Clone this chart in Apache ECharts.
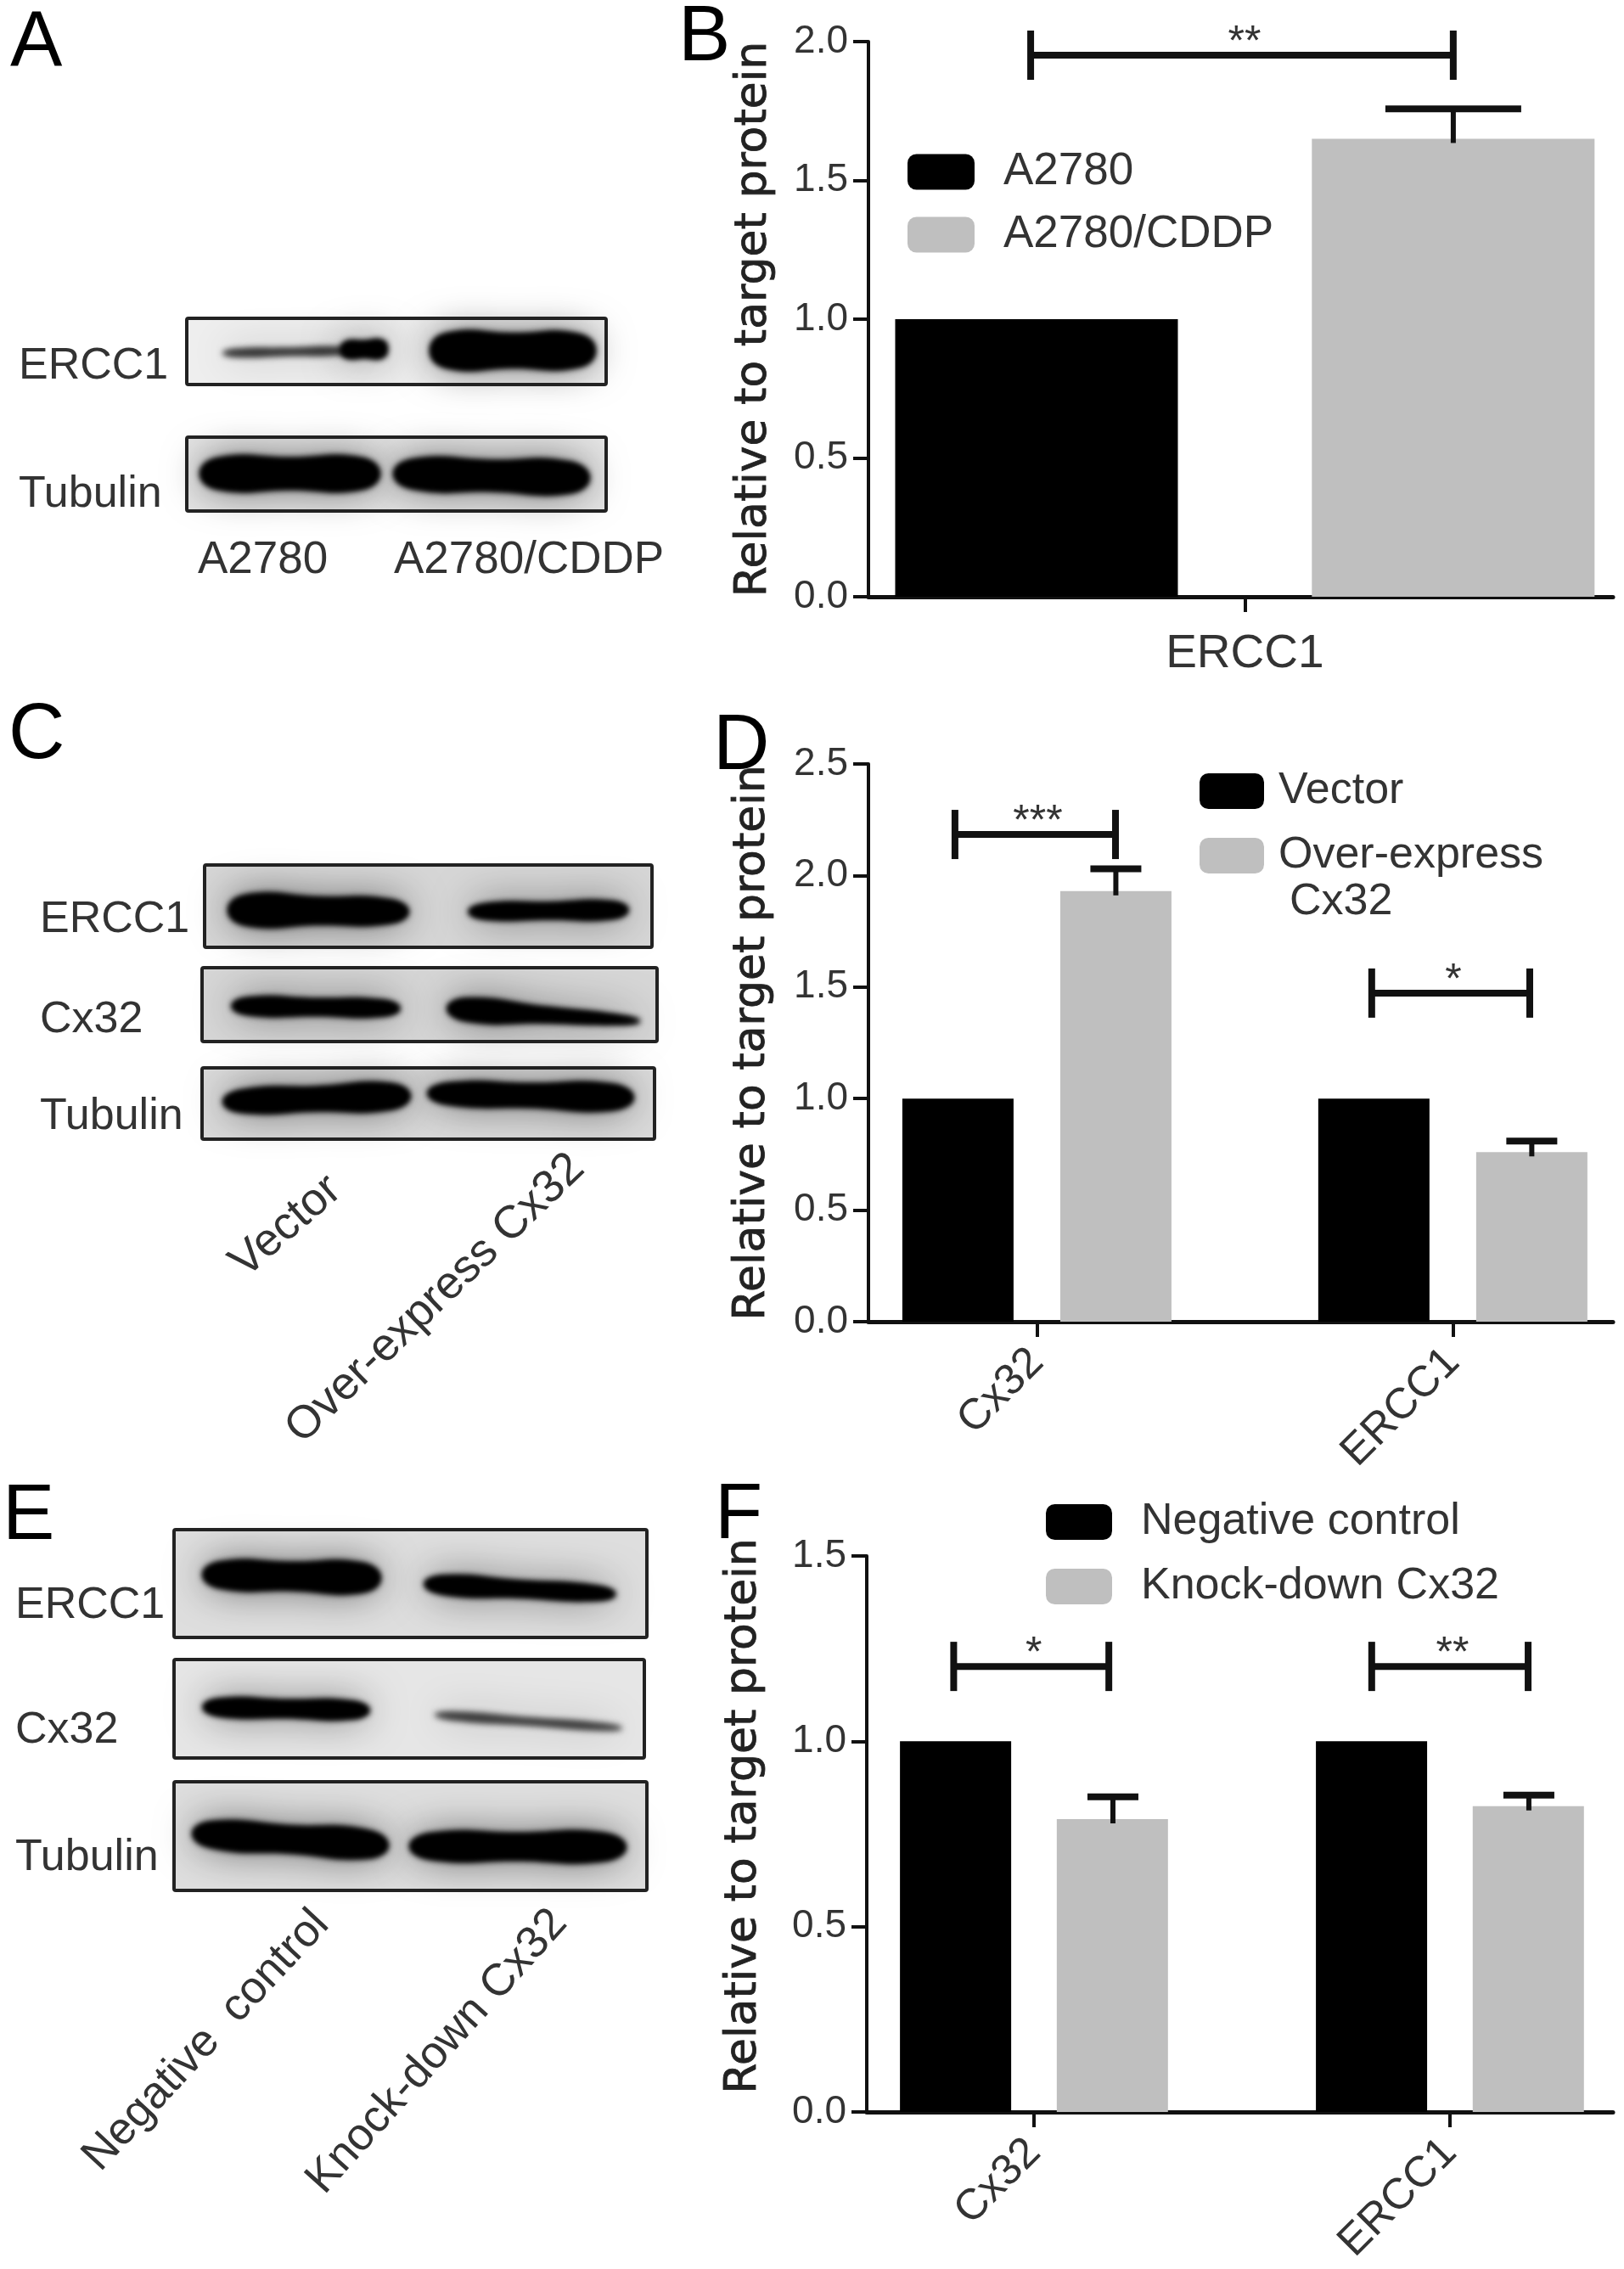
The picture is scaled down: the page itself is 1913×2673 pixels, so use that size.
<!DOCTYPE html>
<html>
<head>
<meta charset="utf-8">
<title>ERCC1 and Cx32 protein levels</title>
<script src="https://cdn.jsdelivr.net/npm/echarts@6/dist/echarts.min.js"></script>
<style>
  html, body { margin: 0; padding: 0; background: #fff; }
  #chart { width: 1913px; height: 2673px; }
</style>
</head>
<body>
<div id="chart"></div>
<script>
// panel B
const catsB = ['ERCC1']
const a2780 = [1.0]
const a2780Cddp = [1.65]
const a2780CddpErr = [0.108]
// panel D
const catsD = ['Cx32', 'ERCC1']
const vector = [1.0, 1.0]
const overExpress = [1.93, 0.76]
const overExpressErr = [0.1, 0.05]
// panel F
const catsF = ['Cx32', 'ERCC1']
const negative = [1.0, 1.0]
const knockDown = [0.79, 0.825]
const knockDownErr = [0.06, 0.03]
// significance brackets: from, to, height, stars
const sigB = [[-0.515, 0.501, 1.951, '**']]
const sigD = [[-0.197, 0.189, 2.184, '***'], [0.805, 1.185, 1.473, '*']]
const sigF = [[-0.193, 0.18, 1.202, '*'], [0.812, 1.188, 1.202, '**']]

const SANS = '"Liberation Sans", Arial, sans-serif'
const TEXT = '#333'
const GRAY = '#bfbfbf'
const INK = '#111'

function errorSeries (idx, values, errs, offset, capWidth) {
  return {
    type: 'custom',
    xAxisIndex: idx,
    yAxisIndex: idx,
    silent: true,
    z: 4,
    data: values.map((v, i) => [i, v, errs[i]]),
    renderItem (params, api) {
      const top = api.coord([api.value(0), api.value(1) + api.value(2)])
      const base = api.coord([api.value(0), api.value(1)])
      const x = top[0] + offset
      return {
        type: 'group',
        children: [
          { type: 'rect', shape: { x: x - 3, y: top[1], width: 6, height: base[1] - top[1] + 5 }, style: { fill: INK } },
          { type: 'rect', shape: { x: x - capWidth / 2, y: top[1] - 4, width: capWidth, height: 8 }, style: { fill: INK } }
        ]
      }
    }
  }
}

function bracketSeries (idx, rows) {
  return {
    type: 'custom',
    xAxisIndex: idx,
    yAxisIndex: idx,
    silent: true,
    z: 4,
    data: rows,
    renderItem (params, api) {
      const a = api.coord([api.value(0), api.value(2)])
      const b = api.coord([api.value(1), api.value(2)])
      const halfEnd = 29
      return {
        type: 'group',
        children: [
          { type: 'rect', shape: { x: a[0], y: a[1] - 4, width: b[0] - a[0], height: 8 }, style: { fill: INK } },
          { type: 'rect', shape: { x: a[0] - 4, y: a[1] - halfEnd, width: 8, height: halfEnd * 2 }, style: { fill: INK } },
          { type: 'rect', shape: { x: b[0] - 4, y: a[1] - halfEnd, width: 8, height: halfEnd * 2 }, style: { fill: INK } },
          {
            type: 'text',
            x: (a[0] + b[0]) / 2 + 3,
            y: a[1] + 11,
            style: {
              text: rows[params.dataIndex][3],
              align: 'center',
              verticalAlign: 'bottom',
              fontFamily: SANS,
              fontSize: 50,
              fill: TEXT
            }
          }
        ]
      }
    }
  }
}

function barSeries (name, idx, values, color, barWidth, barGap) {
  return {
    type: 'bar',
    name: name,
    xAxisIndex: idx,
    yAxisIndex: idx,
    barWidth: barWidth,
    barGap: barGap,
    itemStyle: { color: color },
    data: values.map((v, i) => [i, v])
  }
}

function xAxisFor (idx, cats, min, max, rotate, margin, fontSize) {
  const ticks = cats.map((c, i) => i)
  return {
    type: 'value',
    gridIndex: idx,
    min: min,
    max: max,
    splitLine: { show: false },
    axisLine: { show: true, onZero: false, lineStyle: { color: INK, width: 5 } },
    axisTick: { show: true, customValues: ticks, length: 18, lineStyle: { color: INK, width: 4 } },
    axisLabel: {
      show: true,
      customValues: ticks,
      rotate: rotate,
      margin: margin,
      hideOverlap: false,
      color: TEXT,
      fontFamily: SANS,
      fontSize: fontSize,
      formatter: (v) => cats[v]
    }
  }
}

function yAxisFor (idx, max, nameGap, namePad) {
  return {
    type: 'value',
    gridIndex: idx,
    min: 0,
    max: max,
    interval: 0.5,
    name: 'Relative to target protein',
    nameLocation: 'middle',
    nameRotate: 90,
    nameGap: nameGap,
    nameTextStyle: {
      color: '#222',
      fontFamily: '"DejaVu Sans"',
      fontSize: 52,
      textBorderColor: '#222',
      textBorderWidth: 0.8,
      padding: namePad
    },
    splitLine: { show: false },
    axisLine: { show: true, onZero: false, lineStyle: { color: INK, width: 4 } },
    axisTick: { show: true, length: 18, lineStyle: { color: INK, width: 4 } },
    axisLabel: {
      margin: 24,
      color: TEXT,
      fontFamily: SANS,
      fontSize: 46,
      formatter: (v) => v.toFixed(1)
    }
  }
}

function legendFor (names, left, top, width, gap, textPad, fontSize) {
  return {
    orient: 'vertical',
    left: left,
    top: top,
    padding: 0,
    itemWidth: width,
    itemHeight: 42,
    itemGap: gap,
    data: names.map((n) => ({ name: n, icon: 'roundRect' })),
    textStyle: { color: TEXT, fontFamily: SANS, fontSize: fontSize, lineHeight: 42, padding: [0, 0, 0, textPad] }
  }
}

// blot frames and bands, these are pictures of gels and not chart data
// frame: x, y, w, h, fill
const frames = [
  [220, 375, 494, 78, '#eeeeee'], [220, 515, 494, 87, '#e4e4e4'],
  [241, 1019, 527, 97, '#d6d6d6'], [238, 1140, 536, 87, '#d6d6d6'], [238, 1258, 533, 84, '#dadada'],
  [205, 1802, 557, 127, '#dedede'], [205, 1955, 554, 116, '#e6e6e6'], [205, 2099, 557, 128, '#dedede']
]
// band: x0, yLeft, x1, yRight, hLeft, hRight, opacity
const bands = [
  [262, 416, 415, 413, 9, 9, 0.55], [402, 412, 456, 411, 18, 20, 1], [507, 413, 701, 413, 40, 38, 1],
  [236, 558, 447, 558, 36, 36, 1], [464, 558, 694, 563, 34, 36, 1],
  [269, 1072, 481, 1074, 36, 26, 1], [552, 1074, 740, 1072, 17, 20, 1],
  [273, 1185, 471, 1188, 20, 18, 1], [527, 1188, 754, 1203, 28, 8, 1],
  [263, 1298, 483, 1291, 25, 30, 1], [504, 1288, 746, 1293, 24, 30, 1],
  [239, 1855, 448, 1859, 30, 34, 1], [500, 1866, 725, 1878, 22, 16, 1],
  [239, 2011, 435, 2015, 20, 20, 1], [512, 2020, 733, 2036, 10, 8, 0.5],
  [227, 2160, 457, 2174, 30, 32, 1], [483, 2175, 737, 2176, 30, 32, 1]
]
// text, x, y, size
const labels = [
  ['A', 12, 53, 92], ['B', 799, 46, 92], ['C', 10, 868, 92], ['D', 840, 881, 92], ['E', 3, 1788, 92], ['F', 842, 1787, 92],
  ['ERCC1', 22, 432, 52], ['Tubulin', 22, 583, 52], ['A2780', 233, 660, 53], ['A2780/CDDP', 464, 660, 53],
  ['ERCC1', 47, 1084, 52], ['Cx32', 47, 1202, 52], ['Tubulin', 47, 1316, 52],
  ['ERCC1', 18, 1892, 52], ['Cx32', 18, 2039, 52], ['Tubulin', 18, 2189, 52],
  ['Cx32', 1519, 1063, 52]
]
// text, x, y, size, angle
const slanted = [
  ['Vector', 337, 1445, 54, 41], ['Over-express Cx32', 513, 1530, 54, 44],
  ['Negative  control', 243, 2404, 53, 47], ['Knock-down Cx32', 515, 2417, 53, 48]
]

function bandPoints (b) {
  const [x0, y0, x1, y1, h0, h1] = b
  const w = x1 - x0
  const mid = (t) => y0 + (y1 - y0) * t
  const half = (t) => (h0 + (h1 - h0) * t) / 2
  return [
    [x0, y0],
    [x0 + w * 0.1, mid(0.1) - half(0.1)],
    [x0 + w * 0.5, mid(0.5) - half(0.5)],
    [x0 + w * 0.9, mid(0.9) - half(0.9)],
    [x1, y1],
    [x0 + w * 0.9, mid(0.9) + half(0.9)],
    [x0 + w * 0.5, mid(0.5) + half(0.5)],
    [x0 + w * 0.1, mid(0.1) + half(0.1)]
  ]
}

const graphicElements = []
const OFF = 4000
frames.forEach((f) => {
  graphicElements.push({
    type: 'rect',
    shape: { x: f[0], y: f[1], width: f[2], height: f[3], r: 2 },
    style: { fill: f[4] }
  })
})
bands.forEach((b) => {
  // only the shadow lands on the canvas, the shape itself sits outside it, this gives the soft edge
  const pts = bandPoints(b)
  graphicElements.push({
    type: 'polygon',
    x: -OFF,
    shape: { points: pts, smooth: 0.5 },
    style: { fill: '#000', shadowBlur: 46, shadowColor: 'rgba(0,0,0,' + 0.55 * b[6] + ')', shadowOffsetX: OFF }
  })
  graphicElements.push({
    type: 'polygon',
    x: -OFF,
    shape: { points: pts, smooth: 0.5 },
    style: { fill: '#000', shadowBlur: 9, shadowColor: 'rgba(0,0,0,' + b[6] + ')', shadowOffsetX: OFF }
  })
  graphicElements.push({
    type: 'polygon',
    x: -OFF,
    shape: { points: pts, smooth: 0.5 },
    style: { fill: '#000', shadowBlur: 6, shadowColor: 'rgba(0,0,0,' + b[6] + ')', shadowOffsetX: OFF }
  })
})
frames.forEach((f) => {
  graphicElements.push({
    type: 'rect',
    shape: { x: f[0], y: f[1], width: f[2], height: f[3], r: 2 },
    style: { fill: 'none', stroke: '#222', lineWidth: 4 }
  })
})
labels.forEach((l) => {
  graphicElements.push({
    type: 'text',
    x: l[1],
    y: l[2],
    style: { text: l[0], align: 'left', verticalAlign: 'middle', fontFamily: SANS, fontSize: l[3], fill: l[3] === 92 ? '#000' : TEXT }
  })
})
slanted.forEach((l) => {
  graphicElements.push({
    type: 'text',
    x: l[1],
    y: l[2],
    rotation: l[4] * Math.PI / 180,
    style: { text: l[0], align: 'center', verticalAlign: 'middle', fontFamily: SANS, fontSize: l[3], fill: TEXT }
  })
})

const myChart = echarts.init(document.getElementById('chart'), null, { renderer: 'canvas' })
myChart.setOption({
  animation: false,
  backgroundColor: '#fff',
  grid: [
    { left: 1023, top: 49, width: 877, height: 654 },
    { left: 1023, top: 900, width: 877, height: 657 },
    { left: 1021, top: 1833, width: 879, height: 655 }
  ],
  xAxis: [
    xAxisFor(0, catsB, -0.905, 0.885, 0, 40, 55),
    xAxisFor(1, catsD, -0.405, 1.385, 45, 40, 51),
    xAxisFor(2, catsF, -0.402, 1.392, 45, 40, 51)
  ],
  yAxis: [
    yAxisFor(0, 2, 109, 0),
    yAxisFor(1, 2.5, 111, 0),
    yAxisFor(2, 1.5, 119, [0, 0, 0, 42])
  ],
  legend: [
    legendFor(['A2780', 'A2780/CDDP'], 1069, 176, 79, 21, 29, 53),
    legendFor(['Vector', 'Over-express'], 1413, 906, 76, 24, 12, 52),
    legendFor(['Negative control', 'Knock-down Cx32'], 1232, 1767, 78, 24, 29, 52)
  ],
  series: [
    barSeries('A2780', 0, a2780, '#000', 333, '47.4%'),
    barSeries('A2780/CDDP', 0, a2780Cddp, GRAY, 333, '47.4%'),
    errorSeries(0, a2780Cddp, a2780CddpErr, 245.5, 160),
    bracketSeries(0, sigB),
    barSeries('Vector', 1, vector, '#000', 131, '42%'),
    barSeries('Over-express', 1, overExpress, GRAY, 131, '42%'),
    errorSeries(1, overExpress, overExpressErr, 93, 60),
    bracketSeries(1, sigD),
    barSeries('Negative control', 2, negative, '#000', 131, '41%'),
    barSeries('Knock-down Cx32', 2, knockDown, GRAY, 131, '41%'),
    errorSeries(2, knockDown, knockDownErr, 93, 60),
    bracketSeries(2, sigF)
  ],
  graphic: { elements: graphicElements }
})
</script>
</body>
</html>
